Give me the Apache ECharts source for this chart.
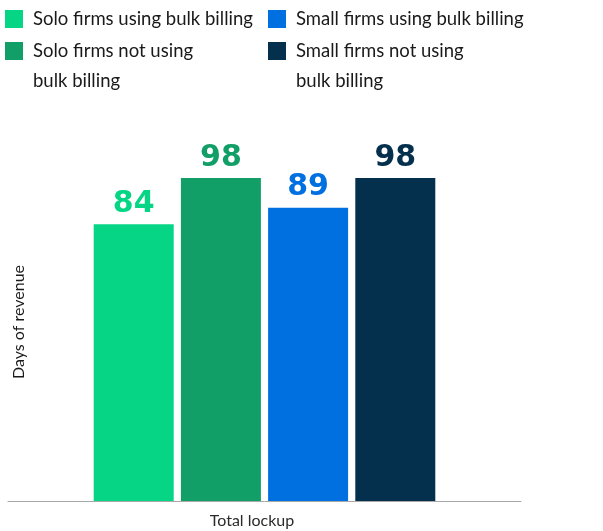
<!DOCTYPE html>
<html>
<head>
<meta charset="utf-8">
<script src="https://cdn.jsdelivr.net/npm/echarts@6/dist/echarts.min.js"></script>
<style>
  html, body { margin: 0; padding: 0; background: #ffffff; }
  #chart { width: 603px; height: 531px; }
</style>
</head>
<body>
<div id="chart"></div>
<script>
// Lockup in days of revenue, by firm size and bulk billing use
const categories = ['Total lockup'];
const seriesNames = [
  'Solo firms using bulk billing',
  'Solo firms not using bulk billing',
  'Small firms using bulk billing',
  'Small firms not using bulk billing'
];
const seriesValues = [84, 98, 89, 98];
const seriesColors = ['#06d586', '#129f67', '#0070e0', '#05304d'];
const yAxisTitle = 'Days of revenue';

const FONT = 'Lato, "Noto Sans", sans-serif';
const LABEL_FONT = '"DejaVu Sans", Lato, sans-serif';

const chart = echarts.init(document.getElementById('chart'), null, { renderer: 'canvas' });

// Square swatch for one-line entries; for wrapped entries the swatch sits at
// the top of a taller (invisible) box so it lines up with the first text line.
const squareIcon = 'path://M0,0L18,0L18,18L0,18Z';
const tallIcon = 'path://M0,0L18,0L18,18L0,18Z M0,48L0,48';

// One legend per entry so the two-column layout can be placed exactly.
const legendPos = [
  { left: 5, top: 4 },
  { left: 5, top: 36 },
  { left: 268, top: 4 },
  { left: 268, top: 36 }
];
const legends = seriesNames.map((name, i) => {
  const twoLine = /not using/.test(name);
  return {
    left: legendPos[i].left,
    top: legendPos[i].top,
    padding: 0,
    icon: twoLine ? tallIcon : squareIcon,
    itemWidth: 18,
    itemHeight: twoLine ? 48 : 18,
    selectedMode: false,
    data: [name],
    formatter: n => twoLine ? n.replace(' bulk billing', '\nbulk billing') : n,
    textStyle: {
      fontFamily: FONT,
      fontSize: 18.5,
      color: '#1a1a1a',
      lineHeight: 30,
      padding: [0, 0, 0, 5]
    }
  };
});

const option = {
  animation: false,
  backgroundColor: '#ffffff',
  legend: legends,
  grid: { left: 8, right: 82, top: 171.4, bottom: 30, containLabel: false },
  xAxis: {
    type: 'category',
    data: categories,
    axisTick: { show: false },
    axisLine: { lineStyle: { color: '#a8a8a8', width: 1 } },
    axisLabel: {
      fontFamily: FONT,
      fontSize: 16,
      color: '#2b2b2b',
      margin: 12,
      padding: [0, 25, 0, 0]
    }
  },
  yAxis: {
    type: 'value',
    min: 0,
    max: 100,
    axisLine: { show: false },
    axisTick: { show: false },
    axisLabel: { show: false },
    splitLine: { show: false }
  },
  graphic: [{
    type: 'text',
    x: 19,
    y: 322,
    rotation: Math.PI / 2,
    style: {
      text: yAxisTitle,
      fontFamily: FONT,
      fontSize: 16,
      fill: '#1a1a1a',
      align: 'center',
      verticalAlign: 'middle'
    }
  }],
  series: seriesNames.map((name, i) => ({
    name: name,
    type: 'bar',
    data: [seriesValues[i]],
    barWidth: 80,
    barGap: '9%',
    itemStyle: { color: seriesColors[i] },
    label: {
      show: true,
      position: 'top',
      distance: 5,
      fontFamily: LABEL_FONT,
      fontSize: 30,
      fontWeight: 'bold',
      color: seriesColors[i]
    }
  }))
};

chart.setOption(option);
</script>
</body>
</html>
